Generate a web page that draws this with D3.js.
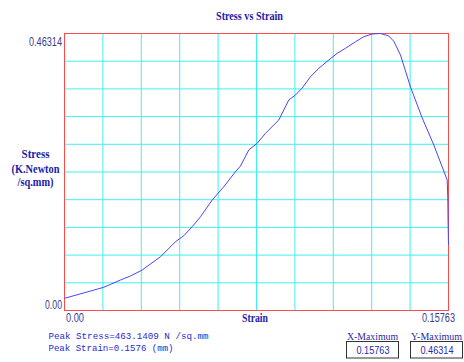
<!DOCTYPE html>
<html>
<head>
<meta charset="utf-8">
<script src="https://cdn.jsdelivr.net/npm/d3@7"></script>
<style>
  html, body { margin: 0; padding: 0; background: #fff; }
  svg { display: block; }
</style>
</head>
<body>
<svg id="chart" width="464" height="362"></svg>
<script>
// Strain (mm) and stress (K.Newton/sq.mm) readings of the tensile test
const strain = [0.0000, 0.01613, 0.02299, 0.02709, 0.03190, 0.03941, 0.04556, 0.04897,
  0.05242, 0.05583, 0.06063, 0.06539, 0.07019, 0.07225, 0.07565, 0.07910, 0.08251,
  0.08797, 0.09207, 0.09482, 0.09757, 0.10098, 0.10439, 0.10849, 0.11194, 0.11535,
  0.11945, 0.12286, 0.12631, 0.12972, 0.13312, 0.13518, 0.13792, 0.14203, 0.14683,
  0.15160, 0.15710, 0.15734, 0.15750, 0.15763];
const stress = [0.0204, 0.0388, 0.0510, 0.0577, 0.0677, 0.0900, 0.1150, 0.1251,
  0.1401, 0.1568, 0.1848, 0.2070, 0.2321, 0.2416, 0.2684, 0.2796, 0.2963,
  0.3185, 0.3520, 0.3603, 0.3720, 0.3909, 0.4050, 0.4188, 0.4300, 0.4384,
  0.4494, 0.4578, 0.4623, 0.46314, 0.4590, 0.4501, 0.4272, 0.3737, 0.3219,
  0.2767, 0.2182, 0.1881, 0.1379, 0.1095];

const xMax = 0.15763;
const yMax = 0.46314;
const gridDivisions = 10;
const xTickLabels = ["0.00", "0.15763"];
const yTickLabels = ["0.00", "0.46314"];
const peakLines = ["Peak Stress=463.1409 N  /sq.mm", "Peak Strain=0.1576  (mm)"];
const maxBoxes = [
  { title: "X-Maximum", value: "0.15763" },
  { title: "Y-Maximum", value: "0.46314" }
];

const svg = d3.select("#chart");
const plot = { left: 64.5, right: 448.5, top: 33.5, bottom: 310.5 };

const x = d3.scaleLinear().domain([0, xMax]).range([plot.left, plot.right]);
const y = d3.scaleLinear().domain([0, yMax]).range([plot.bottom, plot.top]);

const serif = "'Liberation Serif', 'Times New Roman', serif";
const sans = "'Liberation Sans', Arial, sans-serif";
const mono = "'Liberation Mono', 'Courier New', monospace";

// grid
const gx = d3.range(1, gridDivisions).map(i => xMax * i / gridDivisions);
const gy = d3.range(1, gridDivisions).map(i => yMax * i / gridDivisions);
const grid = svg.append("g").attr("stroke", "#3ff0f0").attr("stroke-width", 1);
grid.selectAll("line.v").data(gx).join("line").attr("class", "v")
  .attr("x1", d => x(d)).attr("x2", d => x(d))
  .attr("y1", plot.top).attr("y2", plot.bottom);
grid.selectAll("line.h").data(gy).join("line").attr("class", "h")
  .attr("y1", d => y(d)).attr("y2", d => y(d))
  .attr("x1", plot.left).attr("x2", plot.right);

// frame
svg.append("rect")
  .attr("x", plot.left).attr("y", plot.top)
  .attr("width", plot.right - plot.left).attr("height", plot.bottom - plot.top)
  .attr("fill", "none").attr("stroke", "#ff4a4a").attr("stroke-width", 1);

// curve
const pts = strain.map((s, i) => [s, stress[i]]);
svg.append("path")
  .datum(pts)
  .attr("fill", "none")
  .attr("stroke", "#4646ff")
  .attr("stroke-width", 1)
  .attr("d", d3.line().x(d => x(d[0])).y(d => y(d[1])));

// helper for text
function txt(str, px, py, opts) {
  const t = svg.append("text")
    .attr("x", px).attr("y", py)
    .attr("font-family", opts.font)
    .attr("font-size", opts.size)
    .attr("font-weight", opts.weight || "normal")
    .attr("fill", opts.fill)
    .attr("text-anchor", opts.anchor || "start")
    .text(str);
  if (opts.len) t.attr("textLength", opts.len).attr("lengthAdjust", "spacingAndGlyphs");
  return t;
}

// title
txt("Stress vs Strain", 249.5, 19.5, { font: serif, size: 12, weight: "bold", fill: "#1c1ca8", anchor: "middle", len: 67 });

// axis labels
const yLab = ["Stress", "(K.Newton", "/sq.mm)"];
const yLabLen = [28, 48, 36];
const yLabBase = [158, 173, 186];
yLab.forEach((s, i) => txt(s, 35.5, yLabBase[i], { font: serif, size: 12, weight: "bold", fill: "#1c1ca8", anchor: "middle", len: yLabLen[i] }));
txt("Strain", 242, 321.5, { font: serif, size: 12, weight: "bold", fill: "#1c1ca8", len: 26 });

// tick labels
const tickFill = "#3c3c8c";
txt(yTickLabels[1], 62, y(yMax) + 12.5, { font: sans, size: 12, fill: tickFill, anchor: "end", len: 33 });
txt(yTickLabels[0], 62, y(0) - 1.5, { font: sans, size: 12, fill: tickFill, anchor: "end", len: 17 });
txt(xTickLabels[0], x(0) + 1.5, 321.5, { font: sans, size: 12, fill: tickFill, len: 18 });
txt(xTickLabels[1], 455, 321.5, { font: sans, size: 12, fill: tickFill, anchor: "end", len: 33 });

// peak summary
txt(peakLines[0], 48.5, 339, { font: mono, size: 9.5, fill: "#2a2ad0", len: 160 });
txt(peakLines[1], 48.5, 351, { font: mono, size: 9.5, fill: "#2a2ad0", len: 125 });

// maximum boxes
const boxX = [346.5, 410.5];
maxBoxes.forEach((b, i) => {
  const bx = boxX[i];
  txt(b.title, bx + 26, 340, { font: serif, size: 10.5, fill: "#2a2aa0", anchor: "middle", len: 51 });
  svg.append("rect").attr("x", bx).attr("y", 341.5).attr("width", 52).attr("height", 16.5)
    .attr("fill", "#fff").attr("stroke", "#333").attr("stroke-width", 1);
  txt(b.value, bx + 26.5, 354, { font: sans, size: 11, fill: "#2a2ab0", anchor: "middle", len: 33 });
});
</script>
</body>
</html>
